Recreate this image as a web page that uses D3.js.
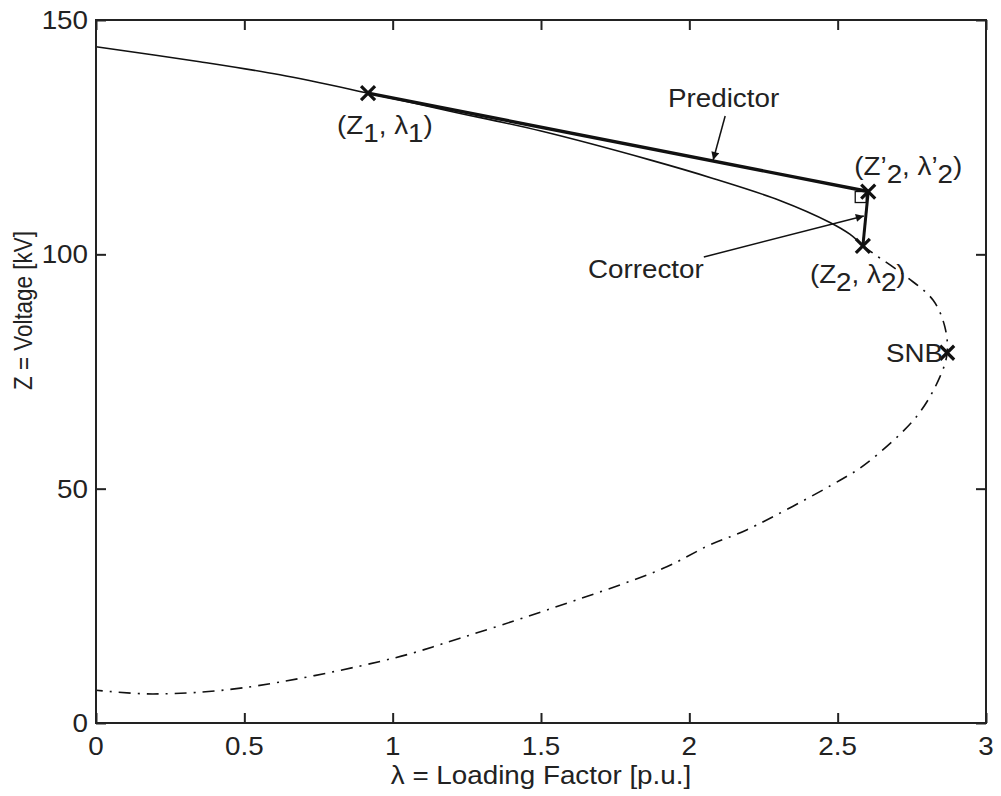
<!DOCTYPE html>
<html>
<head>
<meta charset="utf-8">
<script src="https://cdn.jsdelivr.net/npm/d3@7/dist/d3.min.js"></script>
<style>
  html, body { margin: 0; padding: 0; background: #fff; }
  svg { display: block; }
  text { font-family: "Liberation Sans", Arial, Helvetica, sans-serif; fill: #222; }
</style>
</head>
<body>
<svg id="chart" width="1001" height="796"></svg>
<script>
// ---- data ----
const xTicks = [0, 0.5, 1, 1.5, 2, 2.5, 3];
const xTickLabels = ["0", "0.5", "1", "1.5", "2", "2.5", "3"];
const yTicks = [0, 50, 100, 150];
const yTickLabels = ["0", "50", "100", "150"];

// upper (stable) branch, solid: loading factor λ and voltage Z
const upperLambda = [0, 0.35, 0.62, 0.917, 1.19, 1.5, 1.87, 2.08, 2.305, 2.474, 2.541, 2.585];
const upperZ      = [144.3, 141.1, 138.3, 134.4, 130.6, 126.3, 120.1, 116.2, 111.5, 106.8, 104.3, 101.8];

// remaining branch through the nose, dash-dot
const lowerLambda = [2.585, 2.62, 2.732, 2.822, 2.861, 2.869, 2.845, 2.766, 2.597, 2.508, 2.193, 2.069, 1.912, 1.519, 1.227, 1.001, 0.495, 0.192, 0];
const lowerZ      = [101.8, 100.2, 95.2, 90.2, 84.6, 79.0, 73.9, 65.4, 55.4, 51.8, 41.2, 38.0, 33.0, 24.1, 18.1, 13.8, 7.5, 6.2, 7.0];

// marked points
const pointNames  = ["Z1", "Z2p", "Z2", "SNB"];
const pointLambda = [0.917, 2.603, 2.585, 2.869];
const pointZ      = [134.4, 113.4, 101.8, 79.0];

// ---- layout ----
const svg = d3.select("#chart");
const mLeft = 96, mRight = 986, mTop = 20, mBottom = 723;
const x = d3.scaleLinear().domain([0, 3]).range([mLeft, mRight]);
const y = d3.scaleLinear().domain([0, 150]).range([mBottom, mTop]);
const FS = 25.5, SX = 1.09;

const P = {};
pointNames.forEach((n, i) => P[n] = [x(pointLambda[i]), y(pointZ[i])]);

// ---- curves ----
const line = d3.line().x(d => x(d[0])).y(d => y(d[1])).curve(d3.curveCatmullRom.alpha(0.5));
svg.append("path")
  .attr("d", line(upperLambda.map((l, i) => [l, upperZ[i]])))
  .attr("fill", "none").attr("stroke", "#111").attr("stroke-width", 1.6);
svg.append("path")
  .attr("d", line(lowerLambda.map((l, i) => [l, lowerZ[i]])))
  .attr("fill", "none").attr("stroke", "#111").attr("stroke-width", 1.6)
  .attr("stroke-dasharray", "12,7,2,7");

// ---- predictor & corrector ----
svg.append("line")
  .attr("x1", P.Z1[0]).attr("y1", P.Z1[1]).attr("x2", P.Z2p[0]).attr("y2", P.Z2p[1])
  .attr("stroke", "#111").attr("stroke-width", 3.4);
svg.append("line")
  .attr("x1", P.Z2p[0]).attr("y1", P.Z2p[1]).attr("x2", P.Z2[0]).attr("y2", P.Z2[1])
  .attr("stroke", "#111").attr("stroke-width", 3);
// right-angle square
svg.append("rect")
  .attr("x", P.Z2p[0] - 13).attr("y", P.Z2p[1]).attr("width", 11).attr("height", 11)
  .attr("fill", "none").attr("stroke", "#111").attr("stroke-width", 1.3);

// ---- markers (x) ----
const ms = 7;
pointNames.forEach(n => {
  const [cx, cy] = P[n];
  svg.append("path")
    .attr("d", `M${cx - ms},${cy - ms}L${cx + ms},${cy + ms}M${cx - ms},${cy + ms}L${cx + ms},${cy - ms}`)
    .attr("stroke", "#111").attr("stroke-width", 3.2).attr("fill", "none");
});

// ---- arrows ----
const defs = svg.append("defs");
defs.append("marker").attr("id", "ah").attr("viewBox", "0 0 10 10")
  .attr("refX", 10).attr("refY", 5).attr("markerWidth", 10).attr("markerHeight", 8)
  .attr("markerUnits", "userSpaceOnUse").attr("orient", "auto")
  .append("path").attr("d", "M0,0L10,5L0,10Z").attr("fill", "#111");

// predictor arrow tip lies on predictor segment
const tP = 0.69;
const tipP = [P.Z1[0] + tP * (P.Z2p[0] - P.Z1[0]), P.Z1[1] + tP * (P.Z2p[1] - P.Z1[1]) - 1];
svg.append("line").attr("x1", tipP[0] + 12).attr("y1", tipP[1] - 44)
  .attr("x2", tipP[0]).attr("y2", tipP[1])
  .attr("stroke", "#111").attr("stroke-width", 1.5).attr("marker-end", "url(#ah)");
// corrector arrow tip lies on corrector segment
const tC = 0.45;
const tipC = [P.Z2p[0] + tC * (P.Z2[0] - P.Z2p[0]) - 2, P.Z2p[1] + tC * (P.Z2[1] - P.Z2p[1])];
svg.append("line").attr("x1", tipC[0] - 160).attr("y1", tipC[1] + 41)
  .attr("x2", tipC[0]).attr("y2", tipC[1])
  .attr("stroke", "#111").attr("stroke-width", 1.5).attr("marker-end", "url(#ah)");

// ---- axes box ----
svg.append("rect").attr("x", mLeft).attr("y", mTop).attr("width", mRight - mLeft).attr("height", mBottom - mTop)
  .attr("fill", "none").attr("stroke", "#222").attr("stroke-width", 2);

const tl = 10;
const gx = svg.append("g").attr("transform", `translate(0,${mBottom})`)
  .call(d3.axisBottom(x).tickValues(xTicks).tickSizeInner(-tl).tickSizeOuter(0).tickFormat(""));
const gx2 = svg.append("g").attr("transform", `translate(0,${mTop})`)
  .call(d3.axisTop(x).tickValues(xTicks).tickSizeInner(-tl).tickSizeOuter(0).tickFormat(""));
const gy = svg.append("g").attr("transform", `translate(${mLeft},0)`)
  .call(d3.axisLeft(y).tickValues(yTicks).tickSizeInner(-tl).tickSizeOuter(0).tickFormat(""));
const gy2 = svg.append("g").attr("transform", `translate(${mRight},0)`)
  .call(d3.axisRight(y).tickValues(yTicks).tickSizeInner(-tl).tickSizeOuter(0).tickFormat(""));
[gx, gx2, gy, gy2].forEach(g => {
  g.select(".domain").remove();
  g.selectAll(".tick line").attr("stroke", "#222").attr("stroke-width", 2);
});

// helper for horizontal text (slightly wide font as in the reference)
function htext(tx, ty, anchor) {
  return svg.append("text").attr("transform", `translate(${tx},${ty}) scale(${SX},1)`)
    .attr("text-anchor", anchor).attr("font-size", FS);
}

xTicks.forEach((v, i) => htext(x(v), 755, "middle").text(xTickLabels[i]));
yTicks.forEach((v, i) => htext(mLeft - 8, y(v) + 9, "end").text(yTickLabels[i]));

htext(x(1.5), 784, "middle").text("λ = Loading Factor [p.u.]");
svg.append("text").attr("transform", `translate(32,${y(88)}) rotate(-90) scale(0.88,1)`)
  .attr("text-anchor", "middle").attr("font-size", FS).text("Z = Voltage [kV]");

// ---- annotation labels ----
function subLabel(tx, ty, parts) {
  const t = htext(tx, ty, "start");
  parts.forEach(p => {
    const s = t.append("tspan").text(p.t);
    if (p.sub) s.attr("dy", 8); else if (p.up) s.attr("dy", -8);
  });
  return t;
}
subLabel(P.Z1[0] - 31, P.Z1[1] + 41, [{t: "(Z"}, {t: "1", sub: true}, {t: ", λ", up: true}, {t: "1", sub: true}, {t: ")", up: true}]);
subLabel(P.Z2p[0] - 14, P.Z2p[1] - 17, [{t: "(Z’"}, {t: "2", sub: true}, {t: ", λ’", up: true}, {t: "2", sub: true}, {t: ")", up: true}]);
subLabel(P.Z2[0] - 53, P.Z2[1] + 37, [{t: "(Z"}, {t: "2", sub: true}, {t: ", λ", up: true}, {t: "2", sub: true}, {t: ")", up: true}]);
htext(P.SNB[0] - 4, P.SNB[1] + 9, "end").text("SNB");
htext(668, 107, "start").text("Predictor");
htext(588, 278, "start").text("Corrector");
</script>
</body>
</html>
